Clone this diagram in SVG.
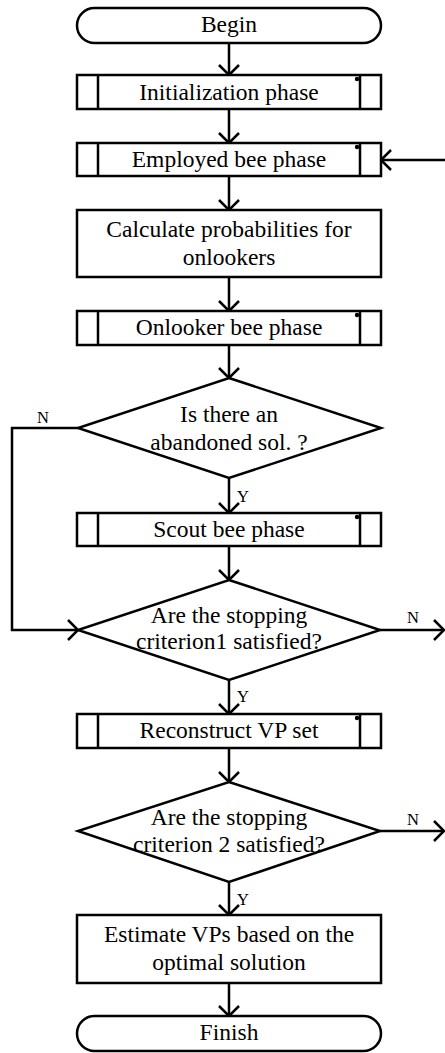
<svg xmlns="http://www.w3.org/2000/svg" width="445" height="1053" viewBox="0 0 445 1053">
<style>
.s{fill:#fff;stroke:#000;stroke-width:2.5}
.l{fill:none;stroke:#000;stroke-width:2.5}
.t{font-family:"Liberation Serif","Times New Roman",serif;font-size:23.5px;text-anchor:middle;fill:#000}
.lb{font-family:"Liberation Serif","Times New Roman",serif;font-size:16.5px;fill:#000}
</style>
<defs>
<marker id="ah" markerUnits="userSpaceOnUse" markerWidth="24" markerHeight="24" viewBox="-12 -12 24 24" refX="0" refY="0" orient="auto">
<path d="M-10,-10 L0,0 L-10,10" fill="none" stroke="#000" stroke-width="2.5"/>
</marker>
</defs>
<g id="connectors" class="l">
<path d="M229,43 V75" marker-end="url(#ah)"/>
<path d="M229,109 V143" marker-end="url(#ah)"/>
<path d="M229,176 V210" marker-end="url(#ah)"/>
<path d="M229,277 V311" marker-end="url(#ah)"/>
<path d="M229,345 V378" marker-end="url(#ah)"/>
<path d="M229,478 V513" marker-end="url(#ah)"/>
<path d="M229,546 V580" marker-end="url(#ah)"/>
<path d="M229,680 V714" marker-end="url(#ah)"/>
<path d="M229,748 V782" marker-end="url(#ah)"/>
<path d="M229,882 V915" marker-end="url(#ah)"/>
<path d="M229,983 V1016" marker-end="url(#ah)"/>
<path d="M445,160 H381" marker-end="url(#ah)"/>
<path d="M78,428 H12 V630 H78" marker-end="url(#ah)"/>
<path d="M380,630 H444" marker-end="url(#ah)"/>
<path d="M380,831 H444" marker-end="url(#ah)"/>
</g>
<g id="labels">
<text class="lb" x="37" y="423">N</text>
<text class="lb" x="237" y="502">Y</text>
<text class="lb" x="407" y="623">N</text>
<text class="lb" x="237" y="702">Y</text>
<text class="lb" x="407" y="825">N</text>
<text class="lb" x="237" y="905">Y</text>
</g>
<g id="begin">
<rect class="s" x="77" y="8" width="304" height="35" rx="17.5"/>
<text class="t" x="229" y="32">Begin</text>
</g>
<g id="init">
<rect class="s" x="77" y="75" width="304" height="34"/>
<path class="l" d="M98,75 V109 M360,75 V109"/>
<circle cx="357" cy="79" r="2.2"/>
<text class="t" x="229" y="100">Initialization phase</text>
</g>
<g id="employed">
<rect class="s" x="77" y="143" width="304" height="33"/>
<path class="l" d="M98,143 V176 M360,143 V176"/>
<circle cx="357" cy="147" r="2.2"/>
<text class="t" x="229" y="167">Employed bee phase</text>
</g>
<g id="calc">
<rect class="s" x="77" y="210" width="304" height="67"/>
<text class="t" x="229" y="237">Calculate probabilities for</text>
<text class="t" x="229" y="265">onlookers</text>
</g>
<g id="onlooker">
<rect class="s" x="77" y="311" width="304" height="34"/>
<path class="l" d="M98,311 V345 M360,311 V345"/>
<circle cx="357" cy="315" r="2.2"/>
<text class="t" x="229" y="335">Onlooker bee phase</text>
</g>
<g id="abandoned">
<path class="s" d="M229,378 L381,428 L229,478 L78,428 Z"/>
<text class="t" x="229" y="422">Is there an</text>
<text class="t" x="229" y="450">abandoned sol. ?</text>
</g>
<g id="scout">
<rect class="s" x="77" y="513" width="304" height="33"/>
<path class="l" d="M98,513 V546 M360,513 V546"/>
<circle cx="357" cy="517" r="2.2"/>
<text class="t" x="229" y="537">Scout bee phase</text>
</g>
<g id="stop1">
<path class="s" d="M229,580 L380,630 L229,680 L78,630 Z"/>
<text class="t" x="229" y="623">Are the stopping</text>
<text class="t" x="229" y="649">criterion1 satisfied?</text>
</g>
<g id="reconstruct">
<rect class="s" x="77" y="714" width="304" height="34"/>
<path class="l" d="M98,714 V748 M360,714 V748"/>
<circle cx="357" cy="718" r="2.2"/>
<text class="t" x="229" y="738">Reconstruct  VP set</text>
</g>
<g id="stop2">
<path class="s" d="M229,782 L380,831 L229,882 L78,831 Z"/>
<text class="t" x="229" y="825">Are the stopping</text>
<text class="t" x="229" y="852">criterion 2 satisfied?</text>
</g>
<g id="estimate">
<rect class="s" x="77" y="915" width="304" height="68"/>
<text class="t" x="229" y="942">Estimate VPs based on the</text>
<text class="t" x="229" y="970">optimal solution</text>
</g>
<g id="finish">
<rect class="s" x="77" y="1016" width="304" height="35" rx="17.5"/>
<text class="t" x="229" y="1040">Finish</text>
</g>
</svg>
